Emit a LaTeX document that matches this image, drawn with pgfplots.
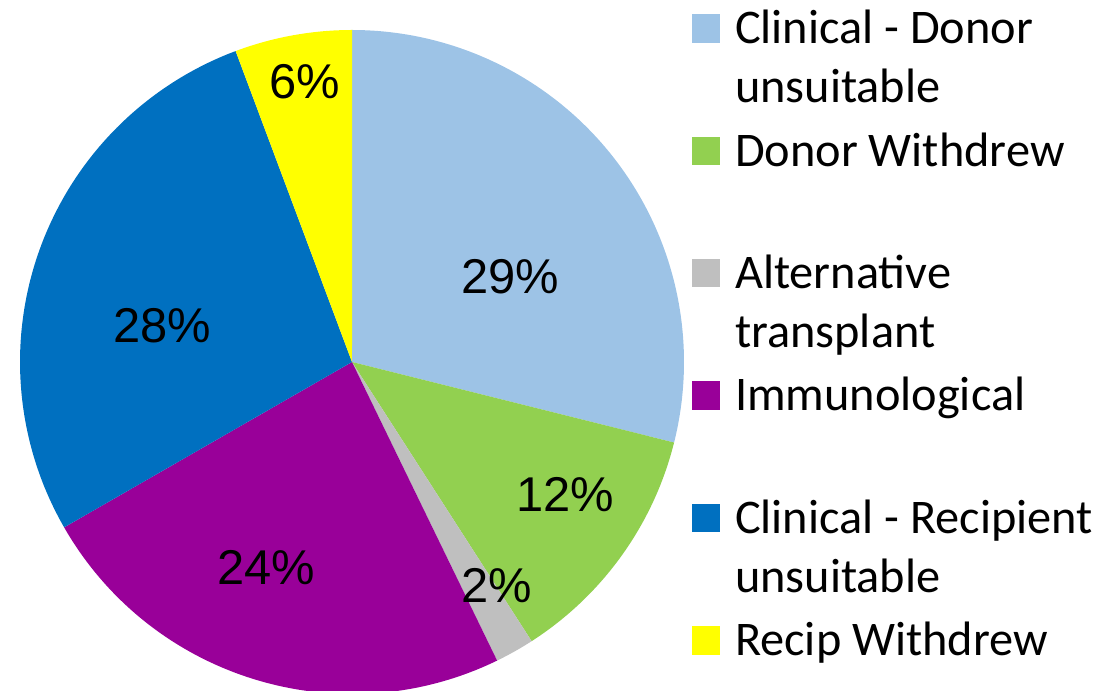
\documentclass[border=0pt]{standalone}
\usepackage{pgfplots}
\pgfplotsset{compat=1.18}
\usepackage{pgfplotstable}
\usepackage{fontspec}
\setmainfont{Carlito}
\newfontfamily\arialf{Liberation Sans}
\definecolor{c0}{HTML}{9DC3E6}
\definecolor{c1}{HTML}{92D050}
\definecolor{c2}{HTML}{BFBFBF}
\definecolor{c3}{HTML}{990099}
\definecolor{c4}{HTML}{0070C0}
\definecolor{c5}{HTML}{FFFF00}

\pgfplotstableread{
value pct lx ly
28.9 29 0.476 0.256
12.0 12 0.642 -0.398
1.9 2 0.437 -0.672
23.9 24 -0.259 -0.620
27.6 28 -0.572 0.108
5.7 6 -0.142 0.843
}\piedata

\begin{document}
\begin{tikzpicture}
\useasboundingbox (0,0) rectangle (11.1cm,-6.91cm);
\begin{axis}[
  at={(3.52cm,-3.62cm)}, anchor=center,
  scale only axis, width=6.64cm, height=6.64cm,
  xmin=-1, xmax=1, ymin=-1, ymax=1,
  hide axis, clip=false,
  /pgf/number format/assume math mode=true,
  pielegend/.style={legend image code/.code={\fill[##1] (0cm,0.30cm) rectangle (0.27cm,0.57cm);}},
  legend style={draw=none, fill=none, inner xsep=0pt, inner ysep=0pt,
    at={(axis description cs:1.0105,1.0301)}, anchor=north west,
    column sep=0.15cm, row sep=0pt,
    font=\fontsize{13.75}{16.8}\selectfont,
    nodes={inner sep=0pt, text height=0.33cm, text depth=0.894cm},
    cells={anchor=west}},
  legend cell align=left,
]
\def\cum{0}
\pgfplotsforeachungrouped \i in {0,...,5}{%
  \pgfplotstablegetelem{\i}{value}\of\piedata
  \let\v=\pgfplotsretval
  \pgfmathsetmacro\sa{90-3.6*\cum}%
  \pgfmathsetmacro\ea{90-3.6*(\cum+\v)}%
  \edef\temp{\noexpand\fill[c\i] (axis cs:0,0) -- (axis cs:{cos(\sa)},{sin(\sa)}) arc[start angle=\sa, end angle=\ea, radius=3.32cm] -- cycle;}%
  \temp
  \pgfmathsetmacro\cum{\cum+\v}%
}
\addplot[forget plot, draw=none, mark=none, point meta=explicit,
  nodes near coords={\pgfmathprintnumber[assume math mode=true]{\pgfplotspointmeta}\%},
  every node near coord/.append style={anchor=center, inner sep=0pt, font=\arialf\fontsize{13.9}{16}\selectfont, text=black}]
  table[x=lx, y=ly, meta=pct] {\piedata};
\addlegendimage{pielegend, c0}
\addlegendentry{\parbox[t]{4.2cm}{Clinical - Donor\\unsuitable}}
\addlegendimage{pielegend, c1}
\addlegendentry{\parbox[t]{4.2cm}{Donor Withdrew}}
\addlegendimage{pielegend, c2}
\addlegendentry{\parbox[t]{4.2cm}{Alternative\\transplant}}
\addlegendimage{pielegend, c3}
\addlegendentry{\parbox[t]{4.2cm}{Immunological}}
\addlegendimage{pielegend, c4}
\addlegendentry{\parbox[t]{4.2cm}{Clinical - Recipient\\unsuitable}}
\addlegendimage{pielegend, c5}
\addlegendentry{\parbox[t]{4.2cm}{Recip Withdrew}}
\end{axis}
\end{tikzpicture}
\end{document}
